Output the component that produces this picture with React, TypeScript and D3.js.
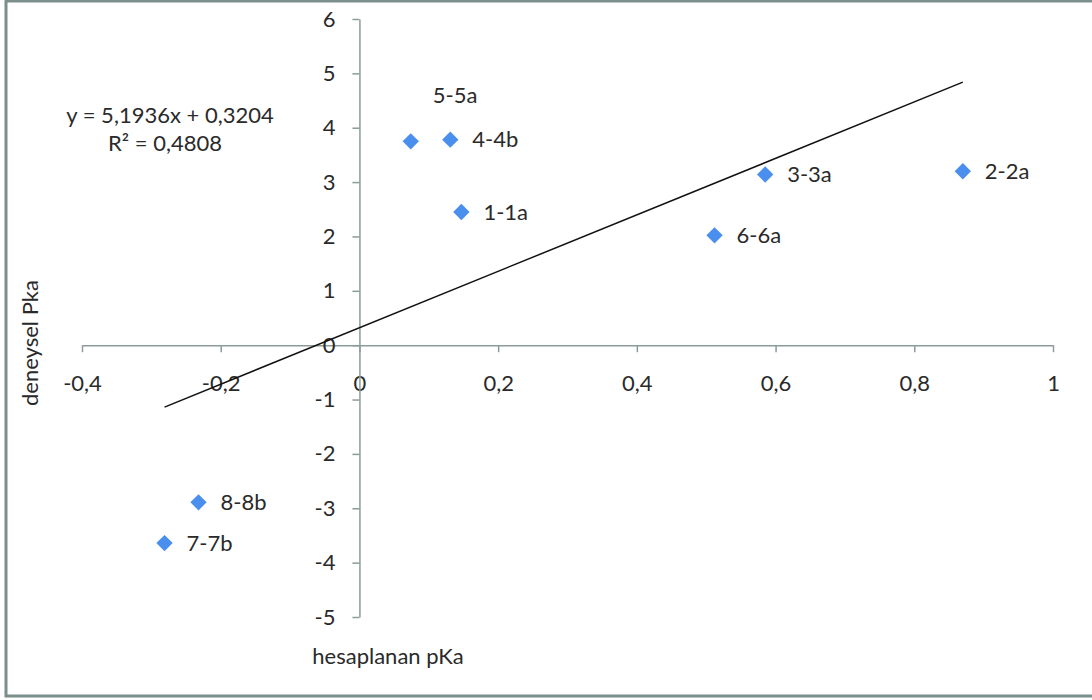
import React, { useEffect, useRef } from "react";
import * as d3 from "d3";

const labels = ["1-1a", "2-2a", "3-3a", "4-4b", "5-5a", "6-6a", "7-7b", "8-8b"];
const hesaplanan = [0.147, 0.87, 0.585, 0.131, 0.074, 0.512, -0.281, -0.232];
const deneysel = [2.45, 3.2, 3.14, 3.78, 3.75, 2.02, -3.64, -2.89];
const xTicks = [-0.4, -0.2, 0, 0.2, 0.4, 0.6, 0.8, 1];
const yTicks = [-5, -4, -3, -2, -1, 0, 1, 2, 3, 4, 5, 6];
const slope = 5.1936;
const intercept = 0.3204;
const equationText = "y = 5,1936x + 0,3204";
const r2Text = "R² = 0,4808";

const W = 1092;
const H = 700;
const FONT = "Lato, 'Open Sans', sans-serif";
const FS = 22;
const AXIS = "#8c9c9a";
const TXT = "#2a2a2a";
const fmt = (v: number) => String(+v.toFixed(1)).replace(".", ",");

export default function App() {
  const ref = useRef<SVGSVGElement>(null);

  useEffect(() => {
    if (!ref.current) return;
    const svg = d3.select(ref.current);
    svg.selectAll("*").remove();

    const x = d3.scaleLinear().domain([-0.4, 1]).range([82, 1053]);
    const y = d3.scaleLinear().domain([-5, 6]).range([617, 19]);

    // frame
    svg.append("rect").attr("x", 6).attr("y", 1).attr("width", W + 10).attr("height", 695)
      .attr("fill", "#fff").attr("stroke", "#7b8e8c").attr("stroke-width", 3);

    // x axis at y=0
    const xAxis = svg.append("g").attr("transform", `translate(0,${y(0)})`)
      .call(d3.axisBottom(x).tickValues(xTicks).tickSize(7).tickSizeOuter(0).tickFormat((d) => fmt(+d)).tickPadding(23));
    xAxis.select(".domain").attr("stroke", AXIS).attr("stroke-width", 1.5);
    xAxis.selectAll(".tick line").attr("stroke", AXIS).attr("stroke-width", 1.5);
    xAxis.selectAll("text").attr("fill", TXT).style("font", `${FS}px ${FONT}`);

    // y axis at x=0
    const yAxis = svg.append("g").attr("transform", `translate(${x(0)},0)`)
      .call(d3.axisLeft(y).tickValues(yTicks).tickSize(7).tickSizeOuter(0).tickFormat((d) => fmt(+d)).tickPadding(17));
    yAxis.select(".domain").attr("stroke", AXIS).attr("stroke-width", 1.5);
    yAxis.selectAll(".tick line").attr("stroke", AXIS).attr("stroke-width", 1.5);
    yAxis.selectAll("text").attr("fill", TXT).style("font", `${FS}px ${FONT}`);

    // trend line over data range
    const [xmin, xmax] = d3.extent(hesaplanan) as [number, number];
    svg.append("line")
      .attr("x1", x(xmin)).attr("y1", y(slope * xmin + intercept))
      .attr("x2", x(xmax)).attr("y2", y(slope * xmax + intercept))
      .attr("stroke", "#111").attr("stroke-width", 1.5);

    const pts = labels.map((l, i) => ({ label: l, x: hesaplanan[i], y: deneysel[i] }));
    const diamond = d3.symbol().type(d3.symbolDiamond2).size(170);
    svg.append("g").selectAll("path").data(pts).join("path")
      .attr("d", diamond)
      .attr("transform", (d) => `translate(${x(d.x)},${y(d.y)})`)
      .attr("fill", "#4a8fee");

    svg.append("g").selectAll("text").data(pts).join("text")
      .attr("x", (d) => x(d.x) + 22)
      .attr("y", (d) => y(d.y) + (d.label === "5-5a" ? -46 : 0))
      .attr("dy", "0.35em")
      .attr("fill", TXT)
      .style("font", `${FS}px ${FONT}`)
      .text((d) => d.label);

    // equation
    svg.append("text").attr("x", 170).attr("y", 115).attr("dy", "0.35em").attr("text-anchor", "middle")
      .attr("fill", TXT).style("font", `${FS}px ${FONT}`).text(equationText);
    svg.append("text").attr("x", 165).attr("y", 143).attr("dy", "0.35em").attr("text-anchor", "middle")
      .attr("fill", TXT).style("font", `${FS}px ${FONT}`).text(r2Text);

    // axis titles
    svg.append("text").attr("transform", `translate(30,343) rotate(-90)`).attr("text-anchor", "middle")
      .attr("dy", "0.35em").attr("fill", TXT).style("font", `${FS}px ${FONT}`).text("deneysel Pka");
    svg.append("text").attr("x", 388).attr("y", 656).attr("dy", "0.35em").attr("text-anchor", "middle")
      .attr("fill", TXT).style("font", `${FS}px ${FONT}`).text("hesaplanan pKa");
  }, []);

  return (
    <svg ref={ref} width={W} height={H} style={{ position: "absolute", left: 0, top: 0, background: "#fff" }} />
  );
}
